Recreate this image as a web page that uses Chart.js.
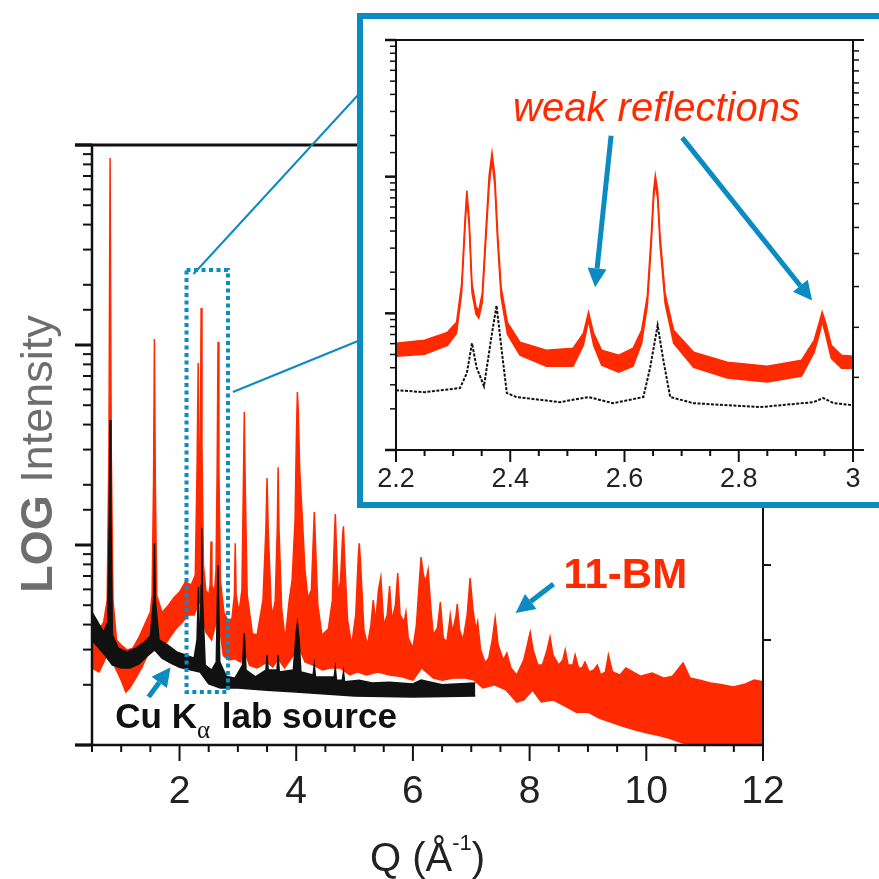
<!DOCTYPE html>
<html>
<head>
<meta charset="utf-8">
<title>11-BM vs Cu Kα powder pattern</title>
<script src="https://cdn.jsdelivr.net/npm/chart.js@4.4.1/dist/chart.umd.min.js"></script>
<style>
  html, body { margin: 0; padding: 0; background: #fff; overflow: hidden; }
  #main { position: absolute; left: 0; top: 0; }
  #insetBox { position: absolute; left: 357px; top: 13px; width: 540px; height: 495px;
              border: 6px solid #0a8bc1; box-sizing: border-box; background: #fff; }
  #inset { position: absolute; left: 0; top: 0; }
</style>
</head>
<body>
<canvas id="main" width="879" height="879"></canvas>
<div id="insetBox"><canvas id="inset" width="528" height="483"></canvas></div>
<script>
// 11-BM pattern: top and bottom edge of the noisy trace (Q in 1/Å, counts)
const bmTopQ = [
  0.50, 0.60, 0.70, 0.76, 0.79, 0.81, 0.83, 0.86, 0.92, 1.00,
  1.10, 1.20, 1.30, 1.40, 1.50, 1.53, 1.555, 1.57, 1.585, 1.61,
  1.70, 1.80, 1.90, 2.00, 2.10, 2.20, 2.27, 2.30, 2.32, 2.335,
  2.345, 2.355, 2.37, 2.385, 2.41, 2.45, 2.50, 2.525, 2.54, 2.555,
  2.60, 2.625, 2.645, 2.66, 2.675, 2.70, 2.76, 2.84, 2.90, 2.94,
  2.955, 2.97, 3.02, 3.07, 3.095, 3.11, 3.125, 3.16, 3.25, 3.33,
  3.43, 3.48, 3.50, 3.52, 3.57, 3.60, 3.64, 3.675, 3.69, 3.705,
  3.75, 3.81, 3.88, 3.93, 3.98, 4.005, 4.02, 4.035, 4.06, 4.10,
  4.15, 4.20, 4.26, 4.295, 4.31, 4.325, 4.37, 4.44, 4.55, 4.62,
  4.655, 4.67, 4.685, 4.72, 4.76, 4.795, 4.81, 4.83, 4.88, 4.95,
  5.02, 5.065, 5.08, 5.10, 5.16, 5.22, 5.28, 5.32, 5.36, 5.41,
  5.45, 5.50, 5.56, 5.60, 5.64, 5.70, 5.74, 5.78, 5.85, 5.88,
  5.92, 6.00, 6.06, 6.10, 6.14, 6.18, 6.22, 6.26, 6.31, 6.35,
  6.42, 6.47, 6.52, 6.58, 6.62, 6.64, 6.68, 6.74, 6.76, 6.80,
  6.86, 6.93, 6.98, 7.03, 7.08, 7.11, 7.16, 7.24, 7.30, 7.36,
  7.41, 7.46, 7.55, 7.61, 7.68, 7.78, 7.90, 7.96, 8.01, 8.06,
  8.14, 8.22, 8.30, 8.35, 8.40, 8.50, 8.57, 8.61, 8.66, 8.74,
  8.78, 8.84, 8.90, 8.95, 9.02, 9.10, 9.16, 9.22, 9.30, 9.35,
  9.42, 9.55, 9.65, 9.77, 9.90, 10.10, 10.30, 10.45, 10.63, 10.75,
  10.92, 11.10, 11.30, 11.49, 11.70, 11.85, 12.00
];
const bmTopI = [
  38.5, 36.7, 41.2, 53, 299, 8610, 299, 53, 33.5, 31.6,
  29.9, 30.5, 34.3, 39.8, 46.2, 56.2, 211, 1072, 211, 56,
  46, 49.5, 54.3, 58.2, 65.3, 63.1, 70.8, 237, 813, 237,
  106, 237, 1531, 299, 79.4, 59.6, 56.2, 63.1, 104, 63,
  58.2, 75, 237, 1035, 237, 66.8, 46.2, 41.2, 43.2, 56.2,
  102, 56.2, 46.2, 59.6, 211, 462, 211, 56.2, 36, 35.5,
  53, 119, 216, 119, 50, 44.7, 53, 119, 245, 119,
  48.4, 33.5, 53, 66.8, 133, 376, 582, 473, 237, 145,
  75, 54.3, 59.6, 112, 146, 112, 50, 35.5, 38, 53,
  112, 143, 106, 56.2, 66.8, 112, 124, 84, 42.2, 31.6,
  44.7, 89.1, 102, 84, 37.6, 31.6, 39.8, 53, 41.2, 59.6,
  69.2, 39.8, 44.7, 62.4, 42.2, 50, 72.4, 44.7, 41.2, 46.2,
  34.3, 30.5, 39.8, 59.6, 87.1, 70.8, 65.3, 75, 47.3, 35.5,
  38.5, 51.9, 34.3, 32.7, 39.8, 44.7, 36.7, 44.7, 50.7, 37.6,
  33.5, 44.7, 68.4, 47.3, 37.6, 41.2, 29.9, 25.7, 27.2, 33.5,
  43.2, 31.6, 26.6, 28.8, 24.3, 22.4, 26.6, 31.6, 36.7, 29.9,
  25.1, 25.1, 29.9, 34.7, 28.2, 25.1, 26.6, 29.9, 25.1, 25.1,
  28.2, 24.3, 24.3, 26, 23.2, 23.7, 25.1, 22.4, 23.2, 28.2,
  23.2, 22.4, 24.3, 23.2, 22.1, 22.9, 21.6, 22.1, 25.7, 21.6,
  21.1, 20.4, 20, 19.5, 20.2, 21.1, 20.7
];
const bmLowQ = [
  0.50, 0.62, 0.72, 0.81, 0.90, 1.00, 1.08, 1.15, 1.25, 1.35,
  1.45, 1.57, 1.65, 1.75, 1.85, 1.95, 2.05, 2.15, 2.25, 2.35,
  2.45, 2.55, 2.66, 2.75, 2.84, 2.95, 3.05, 3.11, 3.20, 3.33,
  3.50, 3.60, 3.69, 3.80, 3.95, 4.02, 4.15, 4.30, 4.45, 4.60,
  4.75, 4.92, 5.05, 5.20, 5.40, 5.60, 5.80, 6.00, 6.15, 6.35,
  6.50, 6.70, 6.90, 7.05, 7.20, 7.40, 7.60, 7.78, 7.90, 8.05,
  8.20, 8.40, 8.60, 8.80, 9.00, 9.20, 9.40, 9.60, 9.80, 10.00,
  10.20, 10.40, 10.60, 10.75, 12.00
];
const bmLowI = [
  24.3, 23.2, 26.6, 33.5, 24.3, 21.1, 18.4, 19.3, 21.6, 24.3,
  28.2, 37.6, 29.2, 31.6, 35.1, 38.5, 41.2, 44.7, 44.7, 53,
  36.7, 33.5, 44.7, 28, 26.6, 27, 26, 30, 25, 24.3,
  26, 24.5, 27, 24.3, 28, 32, 26, 25, 23.7, 24.3,
  24.3, 22.4, 23.2, 22.4, 23.2, 22.4, 22, 21.1, 24.3, 21.6,
  21.1, 21.6, 21.6, 21.1, 19.3, 20, 18.8, 16.4, 16.8, 18.8,
  16.4, 16.8, 15.7, 14.6, 14.6, 13.6, 13, 12.4, 11.9, 11.5,
  11.2, 10.8, 10.3, 10, 10
];

// Cu K-alpha lab source pattern
const labTopQ = [
  0.50, 0.60, 0.70, 0.77, 0.795, 0.81, 0.825, 0.85, 0.95, 1.10,
  1.25, 1.40, 1.50, 1.555, 1.57, 1.585, 1.65, 1.80, 1.95, 2.10,
  2.25, 2.30, 2.325, 2.34, 2.355, 2.37, 2.38, 2.395, 2.44, 2.55,
  2.63, 2.66, 2.69, 2.80, 2.95, 3.08, 3.11, 3.14, 3.30, 3.48,
  3.50, 3.52, 3.67, 3.69, 3.71, 3.95, 4.00, 4.02, 4.05, 4.08,
  4.29, 4.31, 4.33, 4.65, 4.67, 4.69, 4.79, 4.81, 4.83, 5.08,
  5.30, 5.60, 6.00, 6.14, 6.50, 7.07
];
const labTopI = [
  46.2, 41.2, 36.7, 41.2, 133, 422, 133, 35.5, 30.5, 29.2,
  30.5, 32.7, 35.1, 53, 102, 53, 33.5, 31.6, 29.2, 28.2,
  27.2, 33.5, 61.7, 33.5, 29.2, 63.1, 122, 53, 25.1, 23.7,
  26, 79.4, 26, 22.1, 21.6, 25.1, 36.3, 23.7, 21.9, 23.7,
  28.2, 23.7, 23.7, 28.2, 23.2, 23.7, 36.7, 40.7, 33.5, 23.2,
  22.4, 25.1, 21.9, 21.9, 24.3, 21.1, 21.1, 23.2, 20.7, 21.1,
  20.4, 20.6, 20.2, 21.1, 20, 20.4
];
const labLowQ = [
  0.50, 0.62, 0.72, 0.85, 1.00, 1.15, 1.30, 1.45, 1.57, 1.70,
  1.85, 2.00, 2.20, 2.35, 2.50, 2.70, 3.00, 3.50, 4.00, 4.50,
  5.00, 6.00, 7.07
];
const labLowI = [
  33.5, 30.5, 28.2, 25.1, 24.3, 24.3, 25.4, 27.9, 29.9, 27.2,
  25.7, 24.5, 23.7, 23.2, 20.2, 19.3, 19.3, 18.8, 18.4, 18,
  17.6, 17.4, 17.6
];

// 2.2 - 3 window, both patterns
const zoomQ = [
  2.200, 2.250, 2.290, 2.306, 2.315, 2.321, 2.324, 2.328, 2.333, 2.340,
  2.345, 2.351, 2.357, 2.363, 2.368, 2.373, 2.378, 2.384, 2.395, 2.417,
  2.463, 2.510, 2.528, 2.537, 2.546, 2.560, 2.590, 2.615, 2.630, 2.640,
  2.647, 2.651, 2.654, 2.658, 2.662, 2.671, 2.686, 2.721, 2.780, 2.850,
  2.910, 2.932, 2.941, 2.946, 2.952, 2.962, 2.980, 3.000
];
const zoomBmTop = [
  6.04, 6.35, 7.26, 8.59, 16.6, 50.2, 79, 50.2, 16.6, 11.2,
  10.5, 14.0, 38.4, 102, 150, 102, 38.4, 15.5, 8.59, 6.14,
  5.37, 5.55, 7.14, 10.2, 7.14, 5.37, 4.94, 5.55, 7.51, 13.5,
  38.4, 79, 102, 79, 38.4, 14.0, 7.51, 5.19, 4.39, 4.10,
  4.54, 6.35, 8.59, 10.2, 8.59, 5.84, 4.94, 4.85
];
const zoomBmLow = [
  4.85, 5.02, 5.84, 7.14, 14.2, 43.9, 69, 43.9, 14.2, 9.84,
  9.20, 12.0, 32.4, 86, 131, 86, 32.4, 13.1, 7.03, 4.94,
  4.10, 4.10, 5.84, 8.89, 5.84, 4.17, 3.71, 4.10, 6.04, 11.4,
  32.4, 69, 88.9, 69, 32.4, 11.8, 6.04, 4.03, 3.36, 3.14,
  3.47, 5.19, 7.03, 8.74, 7.03, 4.69, 3.97, 3.97
];
const zoomLabQ = [
  2.200, 2.250, 2.312, 2.324, 2.333, 2.341, 2.354, 2.368, 2.376, 2.385,
  2.394, 2.411, 2.487, 2.537, 2.580, 2.633, 2.645, 2.658, 2.668, 2.680,
  2.721, 2.838, 2.931, 2.948, 2.966, 3.000
];
const zoomLabI = [
  2.74, 2.65, 2.84, 3.65, 6.04, 4.03, 2.93, 7.14, 11.4, 5.37,
  2.61, 2.44, 2.24, 2.44, 2.20, 2.44, 4.03, 8.17, 4.54, 2.44,
  2.20, 2.06, 2.24, 2.40, 2.20, 2.13
];

// tick labels
const qTickValues = [2, 4, 6, 8, 10, 12];
const qTickLabels = ['2', '4', '6', '8', '10', '12'];
const zoomTickValues = [2.2, 2.4, 2.6, 2.8, 3];
const zoomTickLabels = ['2.2', '2.4', '2.6', '2.8', '3'];
const mainRightTicks = [33.5, 79.4];
const insetRightTicks = [3.4, 7.9, 15.7, 27.4, 42.5, 63.5, 90.4, 124, 166, 213, 270, 336, 410, 485, 594, 714, 832];

// zoomed region marked on the main plot
const zoomBoxQ = [2.12, 2.83];
const zoomBoxI = [18.4, 2370];

const FONT = '"Liberation Sans", Arial, Helvetica, sans-serif';
const RED = '#ff2a00';
const BLUE = '#0a8bc1';
const INK = '#111';

function pts(qs, is) { return qs.map((q, k) => ({ x: q, y: is[k] })); }
function seg(ctx, x0, y0, x1, y1) { ctx.beginPath(); ctx.moveTo(x0, y0); ctx.lineTo(x1, y1); ctx.stroke(); }
function isDecade(v) { const l = Math.log10(v); return Math.abs(l - Math.round(l)) < 1e-9; }
function pickLabel(values, labels, v) {
  const k = values.findIndex(q => Math.abs(q - v) < 1e-6);
  return k < 0 ? '' : labels[k];
}

function arrow(ctx, x0, y0, x1, y1, w) {
  const ang = Math.atan2(y1 - y0, x1 - x0);
  const len = 19, half = 9.5;
  const bx = x1 - len * Math.cos(ang), by = y1 - len * Math.sin(ang);
  ctx.save();
  ctx.strokeStyle = BLUE;
  ctx.fillStyle = BLUE;
  ctx.lineWidth = w;
  seg(ctx, x0, y0, bx, by);
  ctx.beginPath();
  ctx.moveTo(x1, y1);
  ctx.lineTo(bx + half * Math.sin(ang), by - half * Math.cos(ang));
  ctx.lineTo(bx - half * Math.sin(ang), by + half * Math.cos(ang));
  ctx.closePath();
  ctx.fill();
  ctx.restore();
}

const mainDecor = {
  id: 'mainDecor',
  afterDatasetsDraw(chart) {
    const { ctx, chartArea: a, scales: { x, y } } = chart;
    ctx.save();
    ctx.strokeStyle = INK;

    // frame
    ctx.lineWidth = 3;
    seg(ctx, a.left - 17, a.top, a.right, a.top);
    ctx.lineWidth = 2.5;
    seg(ctx, a.left - 17, a.bottom, a.right, a.bottom);
    seg(ctx, a.left, a.top, a.left, a.bottom);
    ctx.lineWidth = 2;
    seg(ctx, a.right, a.top, a.right, a.bottom);

    // outward ticks
    y.ticks.forEach(t => {
      const p = y.getPixelForValue(t.value);
      const major = isDecade(t.value);
      ctx.lineWidth = major ? 3 : 2;
      seg(ctx, a.left - (major ? 17 : 9), p, a.left, p);
    });
    x.ticks.forEach(t => {
      const p = x.getPixelForValue(t.value);
      const major = Math.abs(t.value / 2 - Math.round(t.value / 2)) < 1e-6;
      ctx.lineWidth = 2;
      seg(ctx, p, a.bottom, p, a.bottom + (major ? 16 : 7));
    });
    ctx.lineWidth = 2;
    mainRightTicks.forEach(v => {
      const p = y.getPixelForValue(v);
      seg(ctx, a.right, p, a.right + 8, p);
    });

    // dotted box around the zoomed window
    const bx0 = x.getPixelForValue(zoomBoxQ[0]), bx1 = x.getPixelForValue(zoomBoxQ[1]);
    const by0 = y.getPixelForValue(zoomBoxI[1]), by1 = y.getPixelForValue(zoomBoxI[0]);
    ctx.strokeStyle = BLUE;
    ctx.lineWidth = 4;
    ctx.setLineDash([4, 3.5]);
    ctx.strokeRect(bx0, by0, bx1 - bx0, by1 - by0);
    ctx.setLineDash([]);

    // leader lines to the zoom panel
    const box = document.getElementById('insetBox');
    ctx.lineWidth = 2;
    seg(ctx, bx0 + 7, by0 + 4, box.offsetLeft + 1, box.offsetTop + 82);
    seg(ctx, bx1 + 5, y.getPixelForValue(582), box.offsetLeft + 1, box.offsetTop + 328);

    // labels on the curves
    ctx.textAlign = 'left';
    ctx.textBaseline = 'alphabetic';
    ctx.fillStyle = RED;
    ctx.font = 'bold 42px ' + FONT;
    ctx.fillText('11-BM', x.getPixelForValue(8.58), y.getPixelForValue(61));
    arrow(ctx, x.getPixelForValue(8.41), y.getPixelForValue(63.8), x.getPixelForValue(7.76), y.getPixelForValue(45.7), 5);

    let tx = x.getPixelForValue(0.9);
    const ty = y.getPixelForValue(12.2);
    ctx.fillStyle = INK;
    ctx.font = 'bold 35px ' + FONT;
    ctx.fillText('Cu K', tx, ty);
    tx += ctx.measureText('Cu K').width;
    ctx.font = '25px "Liberation Serif", serif';
    ctx.fillText('α', tx, ty + 10);
    tx += ctx.measureText('α').width + 2;
    ctx.font = 'bold 35px ' + FONT;
    ctx.fillText(' lab source', tx, ty);
    arrow(ctx, x.getPixelForValue(1.47), y.getPixelForValue(17.4), x.getPixelForValue(1.846), y.getPixelForValue(24.5), 5);

    // y title
    ctx.save();
    ctx.translate(52, a.top + 309);
    ctx.rotate(-Math.PI / 2);
    ctx.fillStyle = '#6e6e6e';
    ctx.font = 'bold 45px ' + FONT;
    const wLog = ctx.measureText('LOG').width;
    ctx.font = '45px ' + FONT;
    const wRest = ctx.measureText(' Intensity').width;
    const x0 = -(wLog + wRest) / 2;
    ctx.font = 'bold 45px ' + FONT;
    ctx.fillText('LOG', x0, 0);
    ctx.font = '45px ' + FONT;
    ctx.fillText(' Intensity', x0 + wLog, 0);
    ctx.restore();

    // x title with superscript
    ctx.fillStyle = '#222';
    ctx.font = '40px ' + FONT;
    const w1 = ctx.measureText('Q (Å').width, w3 = ctx.measureText(')').width;
    ctx.font = '22px ' + FONT;
    const w2 = ctx.measureText('-1').width;
    const sx = (a.left + a.right) / 2 - (w1 + w2 + w3) / 2;
    const base = 871;
    ctx.font = '40px ' + FONT;
    ctx.fillText('Q (Å', sx, base);
    ctx.font = '22px ' + FONT;
    ctx.fillText('-1', sx + w1, base - 21);
    ctx.font = '40px ' + FONT;
    ctx.fillText(')', sx + w1 + w2, base);
    ctx.restore();
  }
};

const insetDecor = {
  id: 'insetDecor',
  afterDatasetsDraw(chart) {
    const { ctx, chartArea: a, scales: { x, y } } = chart;
    ctx.save();
    ctx.strokeStyle = INK;
    ctx.lineWidth = 2;
    seg(ctx, a.left - 11, a.top, a.right + 11, a.top);
    seg(ctx, a.left - 11, a.bottom, a.right + 11, a.bottom);
    seg(ctx, a.left, a.top, a.left, a.bottom);
    seg(ctx, a.right, a.top, a.right, a.bottom);
    y.ticks.forEach(t => {
      const p = y.getPixelForValue(t.value);
      const major = isDecade(t.value);
      ctx.lineWidth = major ? 2.5 : 1.5;
      seg(ctx, a.left - (major ? 11 : 6), p, a.left, p);
    });
    x.ticks.forEach(t => {
      const p = x.getPixelForValue(t.value);
      const major = Math.abs(t.value * 5 - Math.round(t.value * 5)) < 1e-6;
      ctx.lineWidth = 2;
      seg(ctx, p, a.bottom, p, a.bottom + (major ? 12 : 6));
    });
    ctx.lineWidth = 1.5;
    insetRightTicks.forEach(v => {
      const p = y.getPixelForValue(v);
      seg(ctx, a.right, p, a.right + 6, p);
    });

    ctx.fillStyle = RED;
    ctx.textAlign = 'left';
    ctx.textBaseline = 'alphabetic';
    ctx.font = 'italic 40px ' + FONT;
    ctx.fillText('weak reflections', x.getPixelForValue(2.405), y.getPixelForValue(256));
    arrow(ctx, x.getPixelForValue(2.5765), y.getPixelForValue(199), x.getPixelForValue(2.5485), y.getPixelForValue(15.5), 5);
    arrow(ctx, x.getPixelForValue(2.701), y.getPixelForValue(193), x.getPixelForValue(2.9285), y.getPixelForValue(12.4), 5);
    ctx.restore();
  }
};

const common = {
  responsive: false,
  animation: false,
  events: [],
  elements: { point: { radius: 0 }, line: { tension: 0 } },
  plugins: { legend: { display: false }, tooltip: { enabled: false } }
};

new Chart(document.getElementById('main'), {
  type: 'line',
  data: {
    datasets: [
      { data: pts(labLowQ, labLowI), borderColor: INK, borderWidth: 1.5, fill: false },
      { data: pts(labTopQ, labTopI), borderColor: INK, borderWidth: 1.5, backgroundColor: INK, fill: '-1' },
      { data: pts(bmLowQ, bmLowI), borderColor: RED, borderWidth: 1.5, fill: false },
      { data: pts(bmTopQ, bmTopI), borderColor: RED, borderWidth: 1.5, backgroundColor: RED, fill: '-1' }
    ]
  },
  options: {
    ...common,
    layout: { padding: { top: 145, right: 116, left: 0, bottom: 0 } },
    scales: {
      x: {
        type: 'linear', min: 0.5, max: 12,
        afterFit: s => { s.height = 134; },
        grid: { display: false, drawTicks: false },
        border: { display: false },
        ticks: {
          stepSize: 0.5, autoSkip: false, maxRotation: 0, minRotation: 0, padding: 24,
          color: '#222', font: { family: FONT, size: 39 },
          callback: v => pickLabel(qTickValues, qTickLabels, v)
        }
      },
      y: {
        type: 'logarithmic', min: 10, max: 10000,
        afterFit: s => { s.width = 92; },
        grid: { display: false, drawTicks: false },
        border: { display: false },
        ticks: { display: false }
      }
    }
  },
  plugins: [mainDecor]
});

new Chart(document.getElementById('inset'), {
  type: 'line',
  data: {
    datasets: [
      { data: pts(zoomLabQ, zoomLabI), borderColor: INK, borderWidth: 2, borderDash: [3, 1.5], fill: false },
      { data: pts(zoomQ, zoomBmLow), borderColor: RED, borderWidth: 1.5, fill: false },
      { data: pts(zoomQ, zoomBmTop), borderColor: RED, borderWidth: 1.5, backgroundColor: RED, fill: '-1' }
    ]
  },
  options: {
    ...common,
    layout: { padding: { top: 21, right: 38, left: 0, bottom: 0 } },
    scales: {
      x: {
        type: 'linear', min: 2.2, max: 3,
        afterFit: s => { s.height = 52; },
        grid: { display: false, drawTicks: false },
        border: { display: false },
        ticks: {
          stepSize: 0.05, autoSkip: false, maxRotation: 0, minRotation: 0, padding: 13,
          color: '#222', font: { family: FONT, size: 27 },
          callback: v => pickLabel(zoomTickValues, zoomTickLabels, v)
        }
      },
      y: {
        type: 'logarithmic', min: 1, max: 1000,
        afterFit: s => { s.width = 33; },
        grid: { display: false, drawTicks: false },
        border: { display: false },
        ticks: { display: false }
      }
    }
  },
  plugins: [insetDecor]
});
</script>
</body>
</html>
